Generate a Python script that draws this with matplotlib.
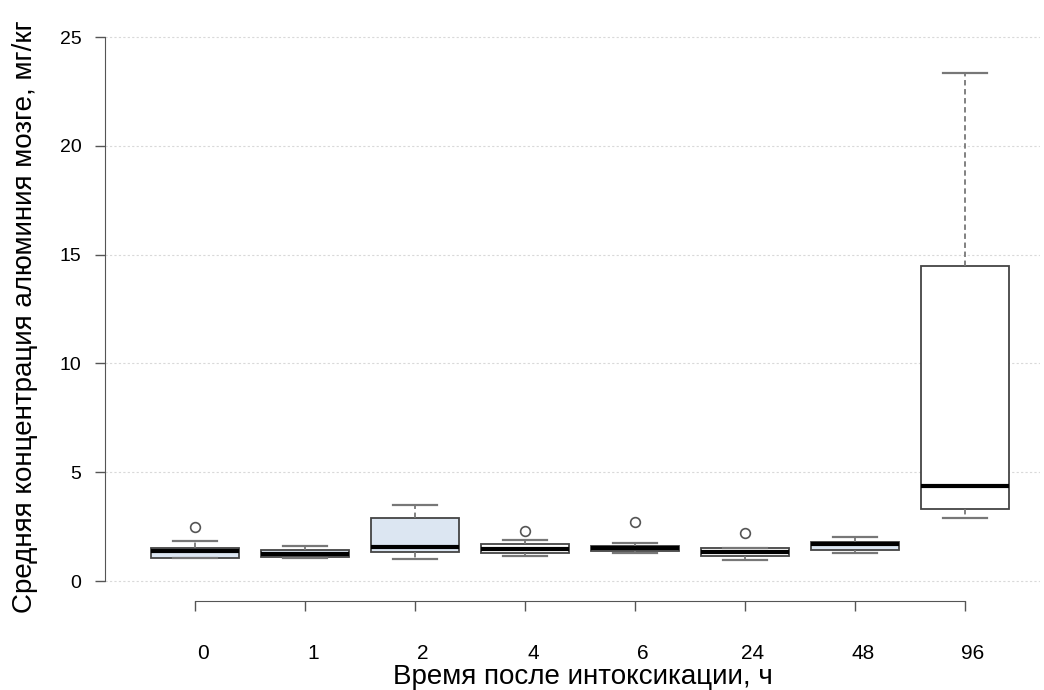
import matplotlib
matplotlib.use("Agg")
import matplotlib.pyplot as plt
import matplotlib.transforms as mtransforms

plt.rcParams['font.family'] = ['Liberation Sans', 'DejaVu Sans']

# Data
groups = ["0", "1", "2", "4", "6", "24", "48", "96"]
whisker_low = [1.05, 1.04, 1.00, 1.15, 1.27, 0.97, 1.27, 2.90]
q1 = [1.04, 1.12, 1.32, 1.30, 1.39, 1.16, 1.42, 3.31]
medians = [1.38, 1.24, 1.58, 1.46, 1.52, 1.35, 1.71, 4.38]
q3 = [1.53, 1.42, 2.91, 1.70, 1.61, 1.50, 1.81, 14.48]
whisker_high = [1.85, 1.62, 3.49, 1.88, 1.73, 1.52, 2.04, 23.33]
outliers = [[2.47], [], [], [2.31], [2.70], [2.19], [], []]
fills = ["#dce6f2", "#dce6f2", "#dce6f2", "#ffffff", "#ffffff", "#ffffff", "#dce6f2", "#ffffff"]

ylabel = "Средняя концентрация алюминия мозге, мг/кг"
xlabel = "Время после интоксикации, ч"
yticks = [0, 5, 10, 15, 20, 25]

W, H = 1044, 690
fig = plt.figure(figsize=(W / 100, H / 100), dpi=100)

# axes placement in pixels
x_left_px, x_right_px = 105, 1040
y0_px, y25_px = 581, 37
ppu = (y0_px - y25_px) / 25.0
ylo, yhi = -0.4, 25.4
ax_top_px = y25_px - (yhi - 25) * ppu
ax_bot_px = y0_px + (0 - ylo) * ppu
ax = fig.add_axes([x_left_px / W, 1 - ax_bot_px / H,
                   (x_right_px - x_left_px) / W, (ax_bot_px - ax_top_px) / H])

positions = list(range(len(groups)))
stats = []
for i in range(len(groups)):
    stats.append(dict(med=medians[i], q1=q1[i], q3=q3[i],
                      whislo=whisker_low[i], whishi=whisker_high[i],
                      fliers=outliers[i], label=groups[i]))

bp = ax.bxp(stats, positions=positions, widths=0.8, patch_artist=True,
            showfliers=True,
            boxprops=dict(edgecolor="#444444", linewidth=1.3),
            medianprops=dict(color="black", linewidth=3, solid_capstyle="butt"),
            whiskerprops=dict(color="#777777", linewidth=1.3, linestyle=(0, (3, 2))),
            capprops=dict(color="#777777", linewidth=1.6),
            flierprops=dict(marker="o", markersize=7, markerfacecolor="none",
                            markeredgecolor="#555555", markeredgewidth=1.2))
for c in bp['caps']:
    xd = c.get_xdata()
    mid = (xd[0] + xd[1]) / 2
    c.set_xdata([mid - 0.2, mid + 0.2])
for patch, col in zip(bp['boxes'], fills):
    patch.set_facecolor(col)

ppx = 110.0
ax.set_xlim(-(195 - x_left_px) / ppx, (x_right_px - 195) / ppx)
ax.set_ylim(ylo, yhi)

for y in yticks:
    ax.axhline(y, color="#d9d9d9", linewidth=0.8, linestyle=(0, (2, 2)), zorder=0)

ax.spines['top'].set_visible(False)
ax.spines['right'].set_visible(False)
ax.spines['left'].set_bounds(0, 25)
ax.spines['left'].set_color("#555555")
ax.spines['bottom'].set_bounds(0, len(groups) - 1)
ax.spines['bottom'].set_color("#555555")
ax.spines['bottom'].set_position(('outward', (601 - ax_bot_px) * 0.72))

ax.set_yticks(yticks)
ax.set_yticklabels([str(v) for v in yticks], fontsize=14)
ax.set_xticks(positions)
ax.set_xticklabels(groups, fontsize=15)
ax.tick_params(axis='y', length=7, width=1, color="#555555", pad=10)
ax.tick_params(axis='x', length=7, width=1, color="#555555", pad=24)
shift = mtransforms.ScaledTranslation(8 / 100, 0, fig.dpi_scale_trans)
for lab in ax.get_xticklabels():
    lab.set_transform(lab.get_transform() + shift)

ax.set_ylabel(ylabel, fontsize=20)
ax.set_xlabel(xlabel, fontsize=20)
ax.yaxis.set_label_coords((25 - x_left_px) / (x_right_px - x_left_px),
                          (ax_bot_px - 317) / (ax_bot_px - ax_top_px))
ax.xaxis.set_label_coords((583 - x_left_px) / (x_right_px - x_left_px),
                          -(677 - ax_bot_px) / (ax_bot_px - ax_top_px))
ax.yaxis.label.set_va('center')
ax.xaxis.label.set_va('center')

fig.savefig("out.png", dpi=100)
